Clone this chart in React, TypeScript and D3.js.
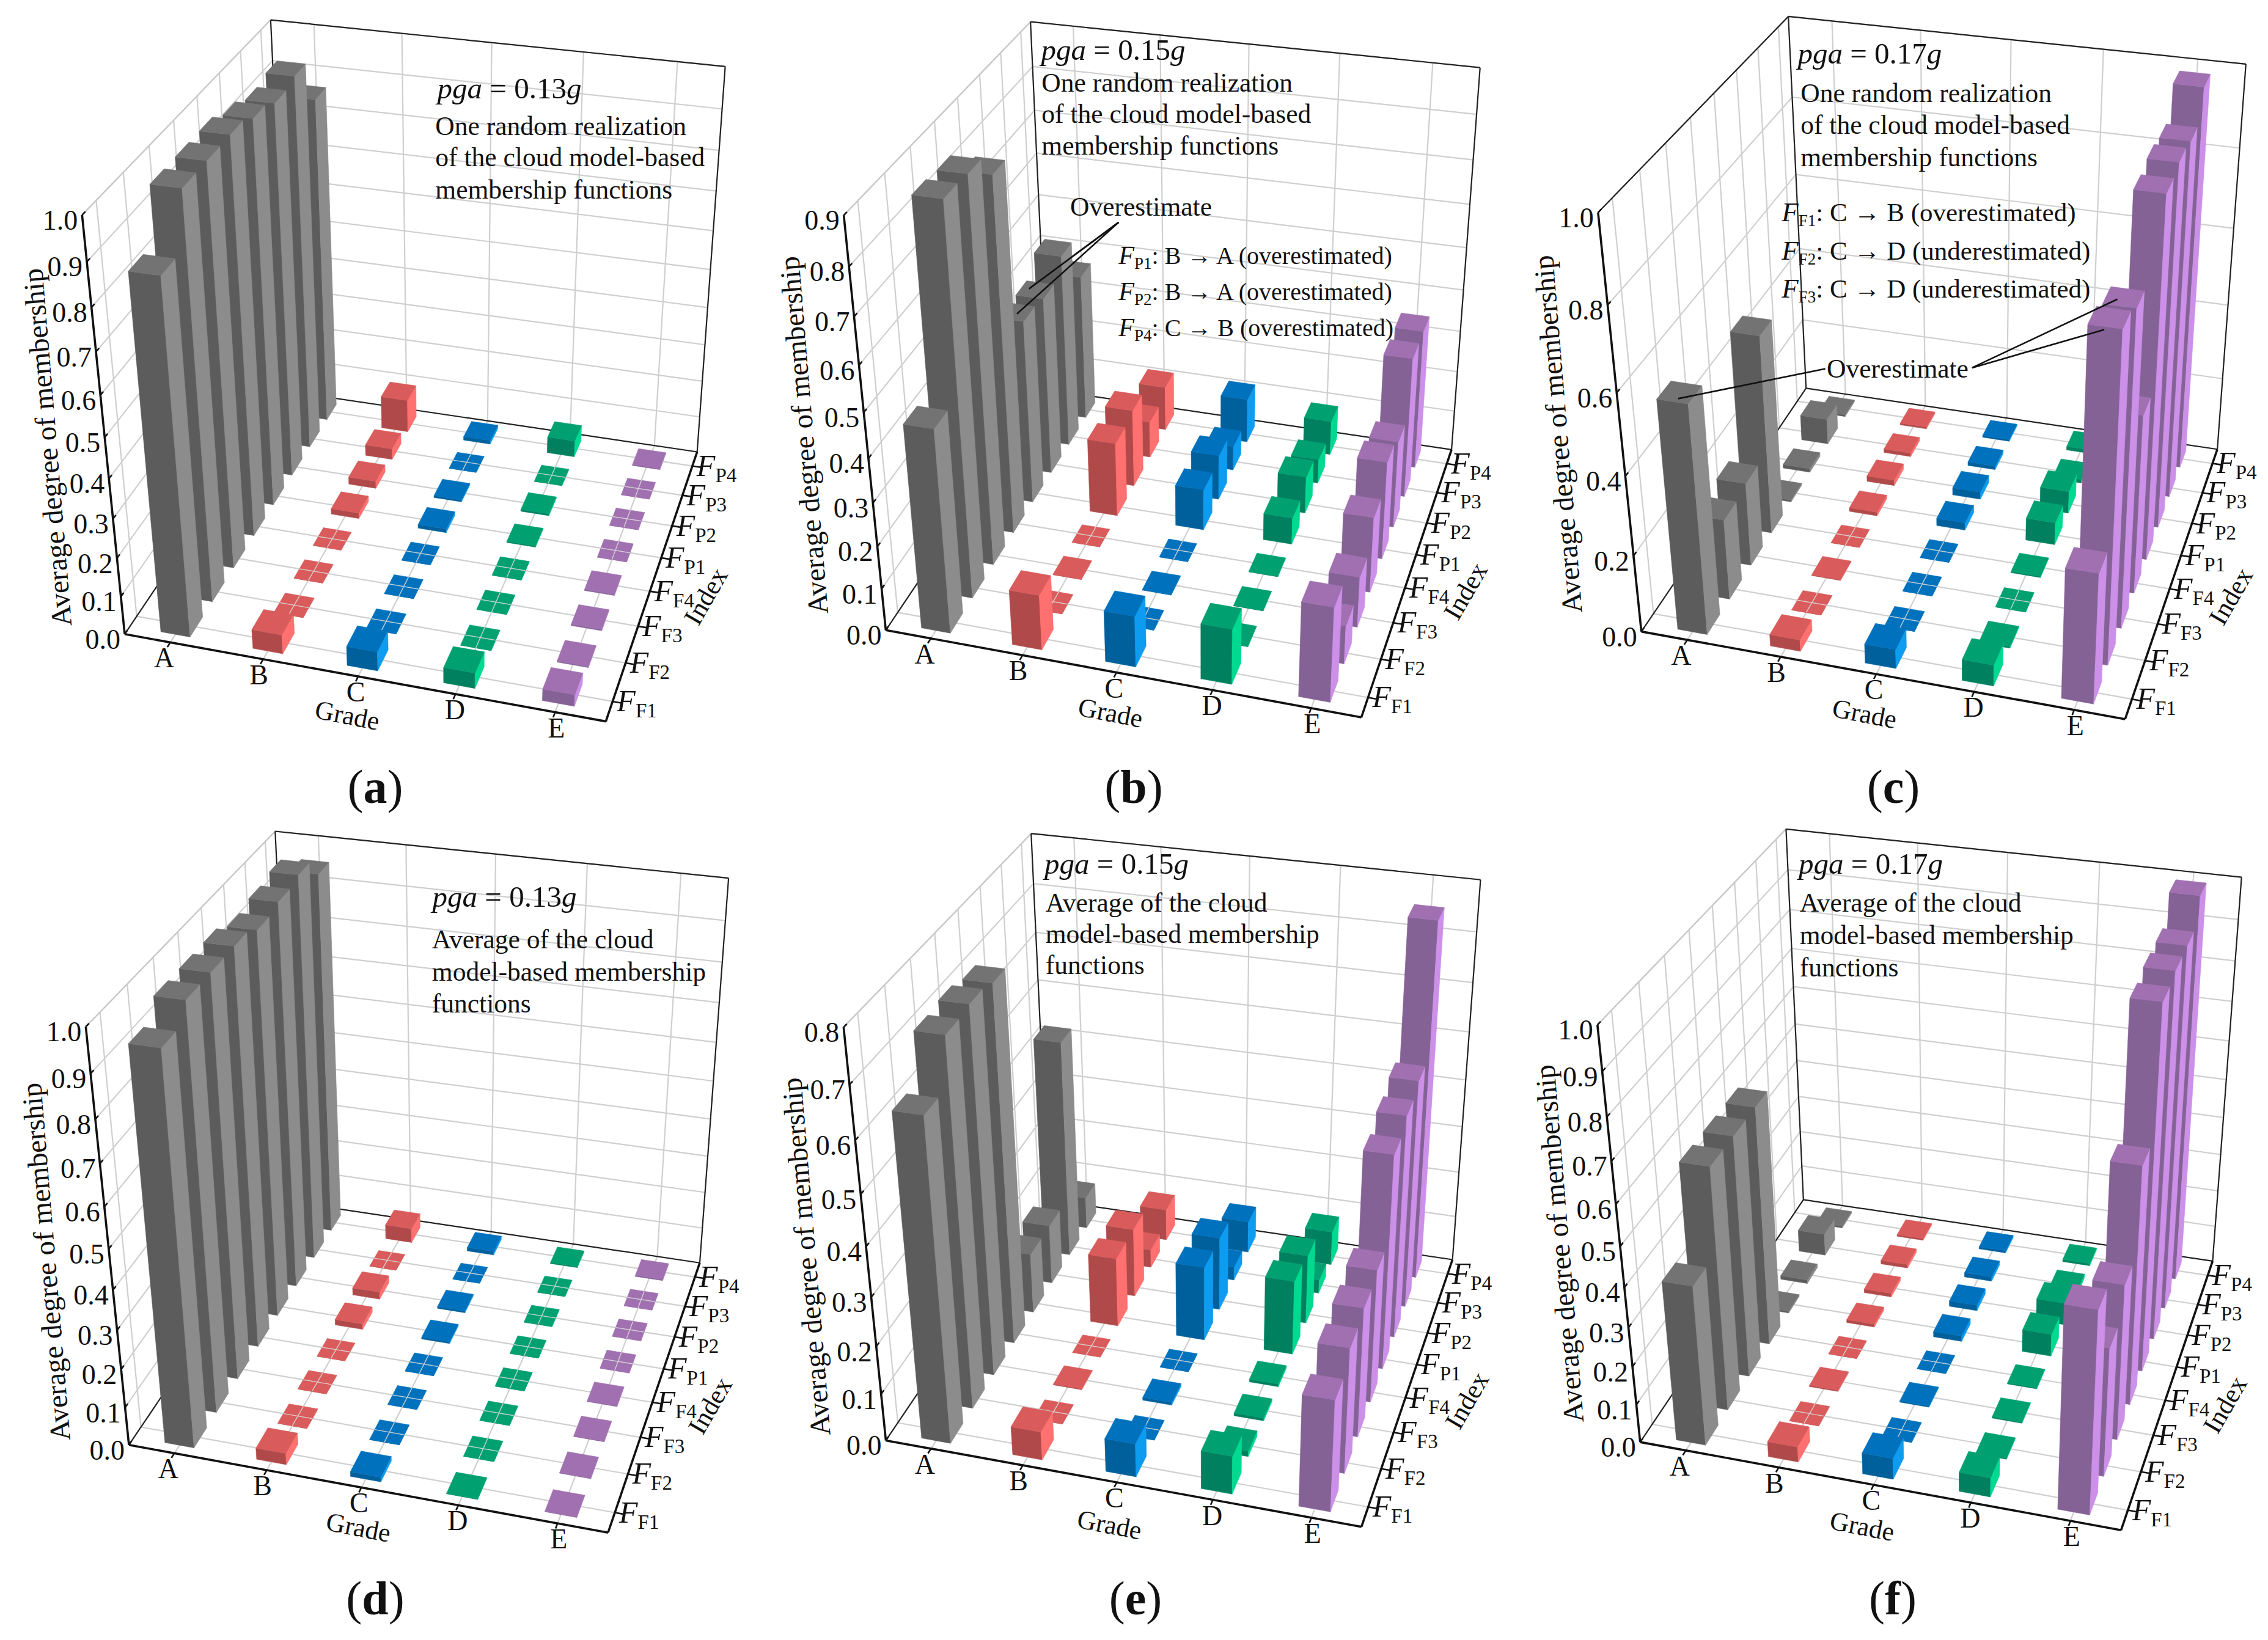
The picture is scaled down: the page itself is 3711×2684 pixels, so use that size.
import React from "react";
import * as d3 from "d3";

const grades = ["A", "B", "C", "D", "E"];
const indexSubs = ["F1", "F2", "F3", "F4", "P1", "P2", "P3", "P4"];
const zMaxes = [1.0, 0.9, 1.0, 1.0, 0.8, 1.0];
const zSteps = [0.1, 0.1, 0.2, 0.1, 0.1, 0.1];

// values per grade, index order F1..P4
const panelA = [
  [0.875, 1.0, 1.0, 1.0, 0.98, 0.96, 0.97, 0.86],
  [0.05, 0, 0, 0, 0.015, 0.02, 0.03, 0.09],
  [0.05, 0, 0, 0, 0.01, 0.005, 0, 0.01],
  [0.04, 0, 0, 0, 0.003, 0.005, 0, 0.045],
  [0.03, 0.003, 0.003, 0.003, 0, 0, 0, 0.003],
];
const panelB = [
  [0.47, 0.88, 0.875, 0.82, 0.44, 0.43, 0.47, 0.36],
  [0.13, 0, 0.001, 0, 0.18, 0.19, 0.09, 0.11],
  [0.12, 0, 0.001, 0, 0.1, 0.11, 0.06, 0.11],
  [0.13, 0.001, 0.001, 0.001, 0.065, 0.09, 0.06, 0.085],
  [0.22, 0.09, 0.12, 0.18, 0.235, 0.21, 0.34, 0.34],
];
const panelC = [
  [0.58, 0.21, 0.22, 0.52, 0.005, 0.01, 0.07, 0.005],
  [0.03, 0, 0.002, 0, 0.01, 0.015, 0.01, 0.005],
  [0.05, 0, 0, 0, 0.02, 0.02, 0.01, 0.005],
  [0.055, 0.004, 0, 0.003, 0.06, 0.06, 0.01, 0.01],
  [0.33, 0.81, 0.785, 0.46, 0.91, 0.92, 0.91, 0.98],
];
const panelD = [
  [0.96, 1.0, 1.0, 1.0, 0.98, 0.99, 1.0, 0.95],
  [0.03, 0, 0, 0, 0.015, 0.02, 0, 0.04],
  [0.012, 0, 0, 0, 0.005, 0.005, 0, 0.01],
  [0.001, 0, 0, 0, 0, 0, 0, 0.003],
  [0.001, 0.002, 0.002, 0.002, 0, 0, 0, 0.003],
];
const panelE = [
  [0.65, 0.74, 0.745, 0.735, 0.13, 0.13, 0.47, 0.07],
  [0.06, 0, 0.002, 0, 0.15, 0.15, 0.04, 0.07],
  [0.07, 0, 0.006, 0, 0.16, 0.16, 0.03, 0.07],
  [0.08, 0.012, 0.006, 0.006, 0.16, 0.15, 0.03, 0.075],
  [0.23, 0.26, 0.27, 0.28, 0.45, 0.47, 0.485, 0.75],
];
const panelF = [
  [0.41, 0.62, 0.62, 0.62, 0.005, 0.01, 0.06, 0.005],
  [0.04, 0, 0.003, 0, 0.008, 0.01, 0.01, 0.005],
  [0.055, 0, 0.003, 0, 0.015, 0.015, 0.012, 0.006],
  [0.05, 0.003, 0.003, 0.003, 0.06, 0.06, 0.012, 0.006],
  [0.51, 0.33, 0.4, 0.61, 0.92, 0.93, 0.93, 0.99],
];
const panelValues = [panelA, panelB, panelC, panelD, panelE, panelF];

const faceColors = [
  { front: "#5c5c5c", side: "#8c8c8c", top: "#737373" },
  { front: "#b04a4a", side: "#ff7070", top: "#d95b5b" },
  { front: "#00609c", side: "#0d9cf0", top: "#0071bc" },
  { front: "#00805f", side: "#00d990", top: "#00a070" },
  { front: "#846296", side: "#cc90e8", top: "#a070b0" },
];

type Pt = [number, number];
// Panel layout in crop coordinates: frame corners as seen in each crop
const crops = [
  { x0: 0, y0: 0, O: [258, 1212], R: [1250, 1380], B: [1440, 862], L: [595, 749], TO: [170, 410], TL: [558, 38], TB: [1498, 128], edge: "#c8c8c8",
    zLab: [100, 855], gLab: [717, 1368], iLab: [1458, 1140], letter: "a", lx: 614, ly: 1314 },
  { x0: 1240, y0: 0, O: [265, 1205], R: [1245, 1372], B: [1433, 858], L: [598, 745], TO: [178, 410], TL: [562, 42], TB: [1492, 130], edge: "#c8c8c8",
    zLab: [97, 832], gLab: [728, 1363], iLab: [1462, 1130], letter: "b", lx: 1855, ly: 1314 },
  { x0: 2470, y0: 0, O: [273, 1208], R: [1270, 1375], B: [1462, 858], L: [612, 742], TO: [183, 405], TL: [575, 32], TB: [1521, 123], edge: "#222",
    zLab: [102, 830], gLab: [733, 1365], iLab: [1490, 1140], letter: "c", lx: 3098, ly: 1314 },
  { x0: 0, y0: 1340, O: [266, 1197], R: [1255, 1365], B: [1445, 848], L: [605, 733], TO: [178, 397], TL: [567, 24], TB: [1505, 114], edge: "#c8c8c8",
    zLab: [97, 847], gLab: [740, 1355], iLab: [1467, 1122], letter: "d", lx: 614, ly: 2642 },
  { x0: 1240, y0: 1340, O: [265, 1188], R: [1245, 1355], B: [1435, 840], L: [600, 730], TO: [178, 397], TL: [563, 28], TB: [1493, 118], edge: "#c8c8c8",
    zLab: [102, 837], gLab: [726, 1350], iLab: [1465, 1112], letter: "e", lx: 1858, ly: 2642 },
  { x0: 2470, y0: 1340, O: [270, 1192], R: [1262, 1360], B: [1452, 845], L: [607, 728], TO: [182, 393], TL: [570, 20], TB: [1512, 112], edge: "#c8c8c8",
    zLab: [105, 812], gLab: [728, 1353], iLab: [1478, 1120], letter: "f", lx: 3097, ly: 2642 },
];
const KX = 1.262;
const KY = 1.168;

const heads = ["0.13", "0.15", "0.17", "0.13", "0.15", "0.17"];
const headPos: Pt[] = [[903, 188], [585, 115], [595, 122], [893, 168], [592, 105], [597, 105]];
const bodyLines = [
  ["One random realization", "of the cloud model-based", "membership functions"],
  ["One random realization", "of the cloud model-based", "membership functions"],
  ["One random realization", "of the cloud model-based", "membership functions"],
  ["Average of the cloud", "model-based membership", "functions"],
  ["Average of the cloud", "model-based membership", "functions"],
  ["Average of the cloud", "model-based membership", "functions"],
];
const bodyPos: [number, number[]][] = [
  [899, [258, 318, 380]],
  [586, [175, 235, 296]],
  [601, [195, 256, 318]],
  [892, [248, 309, 370]],
  [594, [177, 237, 297]],
  [599, [178, 240, 301]],
];
const notes = [
  { panel: 1, sub: "P1", text: ": B → A (overestimated)", x: 745, y: 505 },
  { panel: 1, sub: "P2", text: ": B → A (overestimated)", x: 745, y: 573 },
  { panel: 1, sub: "P4", text: ": C → B (overestimated)", x: 745, y: 642 },
  { panel: 2, sub: "F1", text: ": C → B (overestimated)", x: 562, y: 423 },
  { panel: 2, sub: "F2", text: ": C → D (underestimated)", x: 562, y: 496 },
  { panel: 2, sub: "F3", text: ": C → D (underestimated)", x: 562, y: 569 },
];
const overLabels = [
  { panel: 1, x: 645, y: 412 },
  { panel: 2, x: 655, y: 722 },
];
const leaders = [
  { panel: 1, a: [745, 425], b: [560, 552] },
  { panel: 1, a: [745, 425], b: [535, 600] },
  { panel: 1, a: [745, 425], b: [650, 490] },
  { panel: 2, a: [652, 705], b: [348, 762] },
  { panel: 2, a: [955, 703], b: [1255, 572] },
  { panel: 2, a: [955, 703], b: [1228, 630] },
];

function solve(A: number[][], b: number[]): number[] {
  const n = b.length;
  const M = A.map((r, i) => [...r, b[i]]);
  for (let c = 0; c < n; c++) {
    let piv = c;
    for (let r = c + 1; r < n; r++) if (Math.abs(M[r][c]) > Math.abs(M[piv][c])) piv = r;
    [M[c], M[piv]] = [M[piv], M[c]];
    for (let r = 0; r < n; r++) {
      if (r === c) continue;
      const f = M[r][c] / M[c][c];
      for (let k = c; k <= n; k++) M[r][k] -= f * M[c][k];
    }
  }
  return M.map((r, i) => r[n] / r[i]);
}

// Fit a projective camera to the box corners that are visible in the picture
function makeCamera(corr: { w: number[]; p: Pt }[]) {
  const rows: number[][] = [];
  const rhs: number[] = [];
  corr.forEach(({ w: [X, Y, Z], p: [x0, y0] }) => {
    const x = x0 / 1000, y = y0 / 1000;
    rows.push([X, Y, Z, 1, 0, 0, 0, 0, -x * X, -x * Y, -x * Z]);
    rhs.push(x);
    rows.push([0, 0, 0, 0, X, Y, Z, 1, -y * X, -y * Y, -y * Z]);
    rhs.push(y);
  });
  const N = d3.range(11).map((i) => d3.range(11).map((j) => d3.sum(rows, (r) => r[i] * r[j])));
  const t = d3.range(11).map((i) => d3.sum(rows, (r, k) => r[i] * rhs[k]));
  const p = solve(N, t);
  return (X: number, Y: number, Z: number): Pt => {
    const d = p[8] * X + p[9] * Y + p[10] * Z + 1;
    return [
      (1000 * (p[0] * X + p[1] * Y + p[2] * Z + p[3])) / d,
      (1000 * (p[4] * X + p[5] * Y + p[6] * Z + p[7])) / d,
    ];
  };
}

const uScale = d3.scaleLinear().domain([0, 5]).range([0, 1]);
const vScale = d3.scaleLinear().domain([0, 8]).range([0, 1]);
const HALF_U = 0.032;
const HALF_V = 0.035;
const SERIF = "'Liberation Serif', serif";
const line = d3.line<Pt>();
const closed = (pts: Pt[]) => (line(pts) as string) + "Z";

function Panel({ k }: { k: number }) {
  const c = crops[k];
  const fx = (x: number) => c.x0 + x / KX;
  const fy = (y: number) => c.y0 + y / KY;
  const f = (p: number[]): Pt => [fx(p[0]), fy(p[1])];
  const cam = makeCamera([
    { w: [0, 0, 0], p: f(c.O) },
    { w: [1, 0, 0], p: f(c.R) },
    { w: [1, 1, 0], p: f(c.B) },
    { w: [0, 1, 0], p: f(c.L) },
    { w: [0, 0, 1], p: f(c.TO) },
    { w: [0, 1, 1], p: f(c.TL) },
    { w: [1, 1, 1], p: f(c.TB) },
  ]);
  const zMax = zMaxes[k];
  const zScale = d3.scaleLinear().domain([0, zMax]).range([0, 1]);
  const zTicks = d3.range(0, Math.round(zMax / zSteps[k]) + 1).map((i) => i * zSteps[k]);
  const values = panelValues[k];
  const seg = (a: number[], b: number[]) =>
    line([cam(a[0], a[1], a[2]), cam(b[0], b[1], b[2])]) as string;
  const grid = "#cfcfcf";
  const gw = 2.2;

  const walls: string[] = [];
  zTicks.forEach((t) => {
    if (t === 0) return;
    const z = zScale(t);
    walls.push(seg([0, 0, z], [0, 1, z]));
    walls.push(seg([0, 1, z], [1, 1, z]));
  });
  grades.forEach((_, i) => {
    const u = uScale(i + 0.5);
    walls.push(seg([u, 1, 0], [u, 1, 1]));
  });
  indexSubs.forEach((_, j) => {
    const v = vScale(j + 0.5);
    walls.push(seg([0, v, 0], [0, v, 1]));
  });
  const floor: string[] = [];
  grades.forEach((_, i) => {
    const u = uScale(i + 0.5);
    floor.push(seg([u, 0, 0], [u, 1, 0]));
  });
  indexSubs.forEach((_, j) => {
    const v = vScale(j + 0.5);
    floor.push(seg([0, v, 0], [1, v, 0]));
  });

  const bars: React.ReactNode[] = [];
  d3.range(7, -1, -1).forEach((j) => {
    grades.forEach((_, i) => {
      const val = values[i][j];
      const u = uScale(i + 0.5);
      const v = vScale(j + 0.5);
      const z = zScale(val);
      const col = faceColors[i];
      const u0 = u - HALF_U, u1 = u + HALF_U, v0 = v - HALF_V, v1 = v + HALF_V;
      bars.push(
        <g key={`${i}-${j}`}>
          <path d={closed([cam(u0, v0, 0), cam(u1, v0, 0), cam(u1, v0, z), cam(u0, v0, z)])} fill={col.front} stroke={col.front} strokeWidth={0.6} />
          <path d={closed([cam(u1, v0, 0), cam(u1, v1, 0), cam(u1, v1, z), cam(u1, v0, z)])} fill={col.side} stroke={col.side} strokeWidth={0.6} />
          <path d={closed([cam(u0, v0, z), cam(u1, v0, z), cam(u1, v1, z), cam(u0, v1, z)])} fill={col.top} stroke={col.top} strokeWidth={0.6} />
          {val === 0 && (
            <path
              d={seg([u0, v, 0], [u1, v, 0]) + seg([u, v0, 0], [u, v1, 0])}
              stroke="#dcdcdc"
              strokeWidth={1.5}
              strokeOpacity={0.85}
              fill="none"
            />
          )}
        </g>
      );
    });
  });

  const labelDx = d3.scaleLinear().domain([0, 4]).range([-10, 2]);
  const textSize = 43.5;
  const tickSize = 46;

  return (
    <g fontFamily={SERIF} fill="#111">
      <path d={walls.join("")} stroke={grid} strokeWidth={gw} fill="none" />
      <path d={floor.join("")} stroke={grid} strokeWidth={gw} fill="none" />
      <path d={seg([0, 0, 1], [0, 1, 1])} stroke={c.edge} strokeWidth={2.2} fill="none" />
      <path d={seg([0, 1, 1], [1, 1, 1]) + seg([1, 1, 1], [1, 1, 0]) + seg([0, 1, 1], [0, 1, 0]) + seg([0, 1, 0], [1, 1, 0]) + seg([0, 0, 0], [0, 1, 0])} stroke="#222" strokeWidth={2.2} fill="none" />
      {bars}
      <path d={seg([0, 0, 0], [1, 0, 0]) + seg([1, 0, 0], [1, 1, 0]) + seg([0, 0, 0], [0, 0, 1])} stroke="#111" strokeWidth={3.6} fill="none" />

      {zTicks.map((t) => {
        const p = cam(0, 0, zScale(t));
        const q = cam(0, 0.014, zScale(t));
        return (
          <g key={t}>
            <path d={line([p, q]) as string} stroke="#111" strokeWidth={2.6} fill="none" />
            <text x={p[0] - 7} y={p[1] + 24} fontSize={tickSize} textAnchor="end">
              {t.toFixed(1)}
            </text>
          </g>
        );
      })}
      {grades.map((g, i) => {
        const u = uScale(i + 0.5);
        const p = cam(u, 0, 0);
        const q = cam(u, -0.016, 0);
        return (
          <g key={g}>
            <path d={line([p, q]) as string} stroke="#111" strokeWidth={2.6} fill="none" />
            <text x={p[0] + labelDx(i)} y={p[1] + 41} fontSize={tickSize} textAnchor="middle">
              {g}
            </text>
          </g>
        );
      })}
      {indexSubs.map((s, j) => {
        const v = vScale(j + 0.5);
        const p = cam(1, v, 0);
        const q = cam(1.02, v, 0);
        return (
          <g key={s}>
            <path d={line([p, q]) as string} stroke="#111" strokeWidth={2.6} fill="none" />
            <text x={p[0] + 7} y={p[1] + 16} fontSize={50}>
              <tspan fontStyle="italic">F</tspan>
              <tspan fontSize={33} dy={10}>{s}</tspan>
            </text>
          </g>
        );
      })}

      <text transform={`translate(${fx(c.zLab[0])},${fy(c.zLab[1])}) rotate(-94.7)`} fontSize={47} textAnchor="middle" dy={14}>
        Average degree of membership
      </text>
      <text transform={`translate(${fx(c.gLab[0])},${fy(c.gLab[1])}) rotate(11)`} fontSize={textSize} textAnchor="middle" dy={14}>
        Grade
      </text>
      <text transform={`translate(${fx(c.iLab[0])},${fy(c.iLab[1])}) rotate(-60)`} fontSize={textSize} textAnchor="middle" dy={14}>
        Index
      </text>

      <text x={fx(headPos[k][0])} y={fy(headPos[k][1])} fontSize={49}>
        <tspan fontStyle="italic">pga</tspan>
        <tspan> = {heads[k]}</tspan>
        <tspan fontStyle="italic">g</tspan>
      </text>
      {bodyLines[k].map((t, i) => (
        <text key={i} x={fx(bodyPos[k][0])} y={fy(bodyPos[k][1][i])} fontSize={textSize}>
          {t}
        </text>
      ))}
      {notes.filter((n) => n.panel === k).map((n, i) => (
        <text key={i} x={fx(n.x)} y={fy(n.y)} fontSize={k === 1 ? 40 : 43}>
          <tspan fontStyle="italic" fontSize={k === 1 ? 42 : 45}>F</tspan>
          <tspan fontSize={27} dy={8}>{n.sub}</tspan>
          <tspan dy={-8}>{n.text}</tspan>
        </text>
      ))}
      {overLabels.filter((n) => n.panel === k).map((n, i) => (
        <text key={i} x={fx(n.x)} y={fy(n.y)} fontSize={textSize}>
          Overestimate
        </text>
      ))}
      {leaders.filter((n) => n.panel === k).map((n, i) => (
        <path key={i} d={line([f(n.a), f(n.b)]) as string} stroke="#111" strokeWidth={2.6} fill="none" />
      ))}

      <text x={c.lx} y={c.ly} fontSize={78} textAnchor="middle">
        <tspan>(</tspan>
        <tspan fontWeight="bold">{c.letter}</tspan>
        <tspan>)</tspan>
      </text>
    </g>
  );
}

export default function App() {
  return (
    <svg
      width={3711}
      height={2684}
      viewBox="0 0 3711 2684"
      style={{ position: "absolute", left: 0, top: 0, display: "block", background: "#fff" }}
    >
      <rect width={3711} height={2684} fill="#fff" />
      {crops.map((_, k) => (
        <Panel key={k} k={k} />
      ))}
    </svg>
  );
}
